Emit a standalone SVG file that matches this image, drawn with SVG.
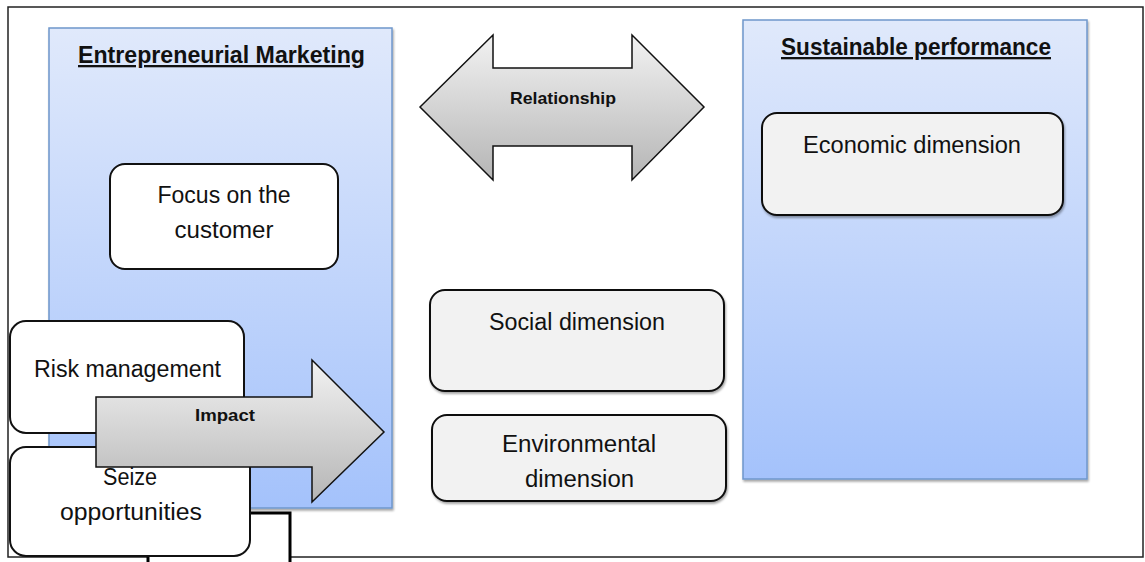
<svg xmlns="http://www.w3.org/2000/svg" width="1145" height="562" viewBox="0 0 1145 562">
<style>
.t{font-family:"Liberation Sans",Arial,sans-serif;font-size:23px;fill:#111;text-anchor:middle}
.b{font-family:"Liberation Sans",Arial,sans-serif;font-weight:bold;fill:#111;text-anchor:middle}
.panel{fill:url(#pg);stroke:#6f97cc;stroke-width:1.5;filter:url(#sh)}
.wbox{fill:#fff;stroke:#111;stroke-width:2}
.gbox{fill:#f2f2f2;stroke:#111;stroke-width:2;filter:url(#sh)}
.arrow{fill:url(#ag);stroke:#111;stroke-width:1.5}
</style>
<defs>
<linearGradient id="pg" x1="0" y1="0" x2="0" y2="1">
<stop offset="0" stop-color="#e0e9fb"/>
<stop offset="1" stop-color="#a4c2fb"/>
</linearGradient>
<linearGradient id="ag" x1="0" y1="0" x2="0" y2="1">
<stop offset="0" stop-color="#f2f2f2"/>
<stop offset="1" stop-color="#b5b5b5"/>
</linearGradient>
<filter id="sh" x="-5%" y="-5%" width="110%" height="115%">
<feDropShadow dx="1" dy="2" stdDeviation="1" flood-color="#000" flood-opacity="0.35"/>
</filter>
</defs>
<rect x="0" y="0" width="1145" height="562" fill="#fff"/>
<rect x="8" y="7" width="1135" height="550" fill="none" stroke="#222" stroke-width="1.5"/>
<rect x="148" y="513" width="142" height="60" fill="#fff" stroke="#000" stroke-width="3"/>

<g id="entrepreneurial-marketing">
<rect class="panel" x="49" y="28" width="343" height="480"/>
<text class="b" x="221.5" y="63" font-size="23" text-decoration="underline" textLength="287" lengthAdjust="spacingAndGlyphs">Entrepreneurial Marketing</text>
</g>
<g id="sustainable-performance">
<rect class="panel" x="743" y="20" width="344" height="459"/>
<text class="b" x="916" y="55" font-size="23" text-decoration="underline" textLength="270" lengthAdjust="spacingAndGlyphs">Sustainable performance</text>
</g>
<g id="focus">
<rect class="wbox" x="110" y="164" width="228" height="105" rx="15"/>
<text class="t" x="224" y="203" textLength="133" lengthAdjust="spacingAndGlyphs">Focus on the</text>
<text class="t" x="224" y="238" textLength="99" lengthAdjust="spacingAndGlyphs">customer</text>
</g>
<g id="economic">
<rect class="gbox" x="762" y="113" width="301" height="102" rx="15"/>
<text class="t" x="912" y="153" textLength="218" lengthAdjust="spacingAndGlyphs">Economic dimension</text>
</g>
<g id="social">
<rect class="gbox" x="430" y="290" width="294" height="101" rx="15"/>
<text class="t" x="577" y="330" textLength="176" lengthAdjust="spacingAndGlyphs">Social dimension</text>
</g>
<g id="environmental">
<rect class="gbox" x="432" y="415" width="294" height="86" rx="15"/>
<text class="t" x="579" y="452" textLength="154" lengthAdjust="spacingAndGlyphs">Environmental</text>
<text class="t" x="579.5" y="487" textLength="109" lengthAdjust="spacingAndGlyphs">dimension</text>
</g>
<g id="risk">
<rect class="wbox" x="10" y="321" width="234" height="112" rx="16"/>
<text class="t" x="127.5" y="377" textLength="187" lengthAdjust="spacingAndGlyphs">Risk management</text>
</g>
<g id="seize">
<rect class="wbox" x="10" y="447" width="240" height="109" rx="16"/>
<text class="t" x="130" y="485" textLength="54" lengthAdjust="spacingAndGlyphs">Seize</text>
<text class="t" x="131" y="520" textLength="142" lengthAdjust="spacingAndGlyphs">opportunities</text>
</g>
<g id="connectors">
<g id="relationship">
<polygon class="arrow" points="420,107 493,35 493,68 632,68 632,35 704,107 632,180 632,146 493,146 493,180"/>
<text class="b" x="563" y="104" font-size="17" textLength="106" lengthAdjust="spacingAndGlyphs">Relationship</text>
</g>
<g id="impact">
<polygon class="arrow" points="96,397 312,397 312,360 384,432 312,502 312,467 96,467"/>
<text class="b" x="225" y="421" font-size="17" textLength="60" lengthAdjust="spacingAndGlyphs">Impact</text>
</g>
</g>
</svg>
